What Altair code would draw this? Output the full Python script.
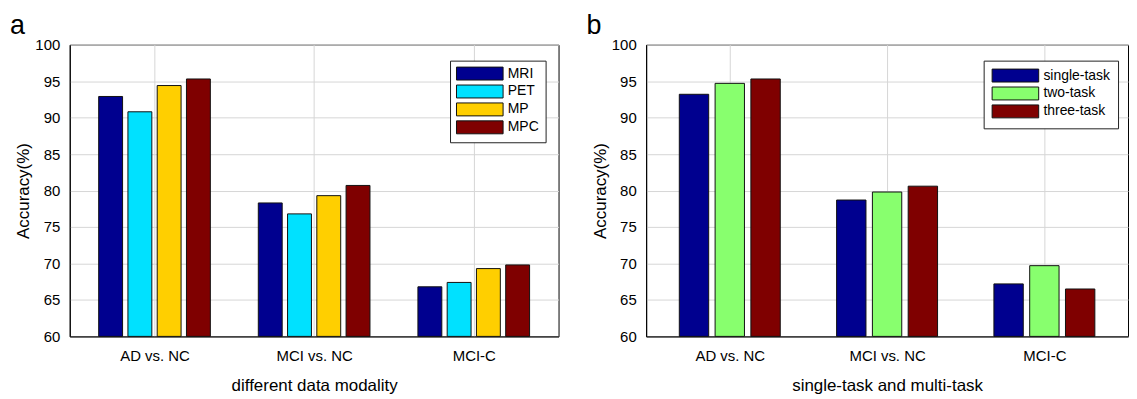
import altair as alt
import pandas as pd

groups = ["AD vs. NC", "MCI vs. NC", "MCI-C"]

mod_series = ["MRI", "PET", "MP", "MPC"]
mod_colors = ["#00008F", "#00E1FF", "#FFCF00", "#7F0000"]
mri = [92.9, 78.3, 66.8]
pet = [90.8, 76.8, 67.4]
mp = [94.4, 79.3, 69.3]
mpc = [95.3, 80.7, 69.8]

task_series = ["single-task", "two-task", "three-task"]
task_colors = ["#00008F", "#88FF6E", "#7F0000"]
single = [93.2, 78.7, 67.2]
two = [94.7, 79.8, 69.7]
three = [95.3, 80.6, 66.5]

y_ticks = [60, 65, 70, 75, 80, 85, 90, 95, 100]

FONT = "Liberation Sans"
SWATCH = "M-1,-1H6.2V1H-1Z"


def long_table(series_names, series_values, slot):
    # grouped-bar layout: group i sits at i+1 on the x axis, series spread by `slot`
    rows = []
    n = len(series_names)
    for k, (name, vals) in enumerate(zip(series_names, series_values)):
        for i, (g, v) in enumerate(zip(groups, vals)):
            rows.append({"group": g, "series": name, "value": v,
                         "pos": i + 1 + (k - (n - 1) / 2) * slot})
    return pd.DataFrame(rows)


df_a = long_table(mod_series, [mri, pet, mp, mpc], 0.1833)
df_b = long_table(task_series, [single, two, three], 0.2275)

label_expr = " : ".join(
    f"datum.value == {i + 1} ? '{g}'" for i, g in enumerate(groups)
) + " : ''"


def panel(df, letter, xtitle, names, colors, width, legend_x, bar_w, legend_pad):
    y_axis = alt.Axis(
        values=y_ticks, title="Accuracy(%)", titleFontSize=17, titleFontWeight="normal",
        labelFontSize=15, ticks=False, labelPadding=10, titlePadding=2,
        grid=True, gridColor="#d6d6d6", gridWidth=1, domainColor="black",
        labelColor="black", titleColor="black",
    )
    x_axis = alt.Axis(
        title=xtitle, values=[1, 2, 3], labelExpr=label_expr, labelAngle=0,
        labelFontSize=15, titleFontSize=17, titleFontWeight="normal", ticks=False,
        grid=True, gridColor="#d6d6d6", labelPadding=12.5, titlePadding=14,
        domainColor="black", labelColor="black", titleColor="black",
        labelFlush=False, labelOverlap=False,
    )
    legend = alt.Legend(
        orient="none", legendX=legend_x, legendY=16, title=None,
        symbolType=SWATCH, symbolSize=169, symbolStrokeColor="#111111",
        symbolStrokeWidth=1, symbolOpacity=1, labelOffset=38, labelFontSize=14,
        labelColor="black", fillColor="white", strokeColor="#222222",
        padding=legend_pad, rowPadding=0,
    )
    return alt.Chart(df, title=alt.TitleParams(
        text=letter, anchor="start", fontSize=27, fontWeight="normal",
        color="black", offset=-2, dx=-5,
    )).mark_bar(stroke="#111111", strokeWidth=1, width=bar_w).encode(
        x=alt.X("pos:Q", axis=x_axis,
                scale=alt.Scale(domain=[0.5, 3.5], nice=False, zero=False)),
        y=alt.Y("value:Q", axis=y_axis,
                scale=alt.Scale(domain=[60, 100], zero=False, nice=False)),
        y2=alt.datum(60),
        color=alt.Color("series:N", sort=names,
                        scale=alt.Scale(domain=names, range=colors), legend=legend),
        tooltip=["group:N", "series:N", "value:Q"],
    ).properties(width=width, height=293)


chart_a = panel(df_a, "a", "different data modality", mod_series, mod_colors,
                491, 382, 24, 6)
chart_b = panel(df_b, "b", "single-task and multi-task", task_series, task_colors,
                484, 339, 29.5, 8)

chart = alt.hconcat(chart_a, chart_b, spacing=26).resolve_scale(
    color="independent"
).configure(
    font=FONT,
    padding={"left": 1, "top": 2, "right": 0, "bottom": 0},
).configure_view(
    stroke="black", strokeWidth=1,
)

chart.save("out.html", embed_options={"renderer": "svg", "actions": False})
